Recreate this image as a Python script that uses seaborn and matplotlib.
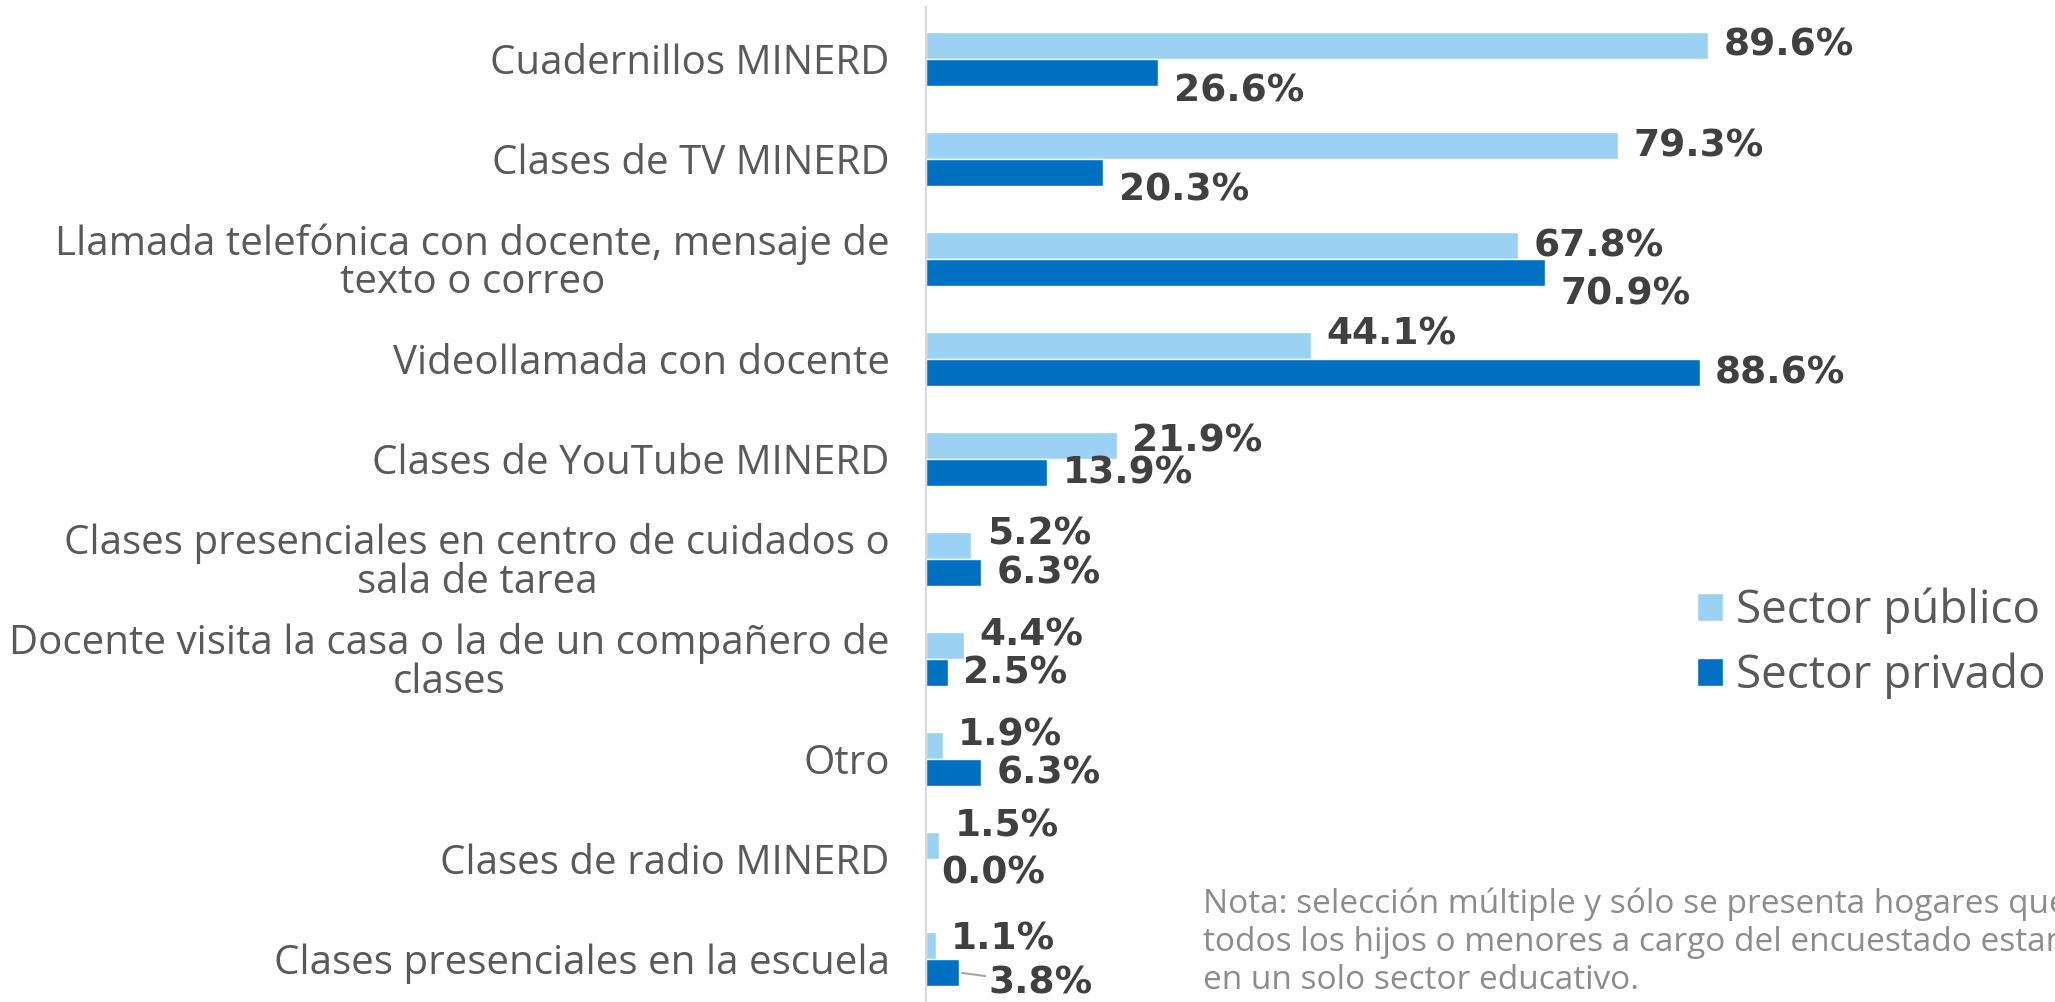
import matplotlib
matplotlib.use('Agg')
import matplotlib.pyplot as plt
import seaborn as sns
import pandas as pd

# ============================
# Data
# ============================
categories = [
    'Cuadernillos MINERD',
    'Clases de TV MINERD',
    'Llamada telefónica con docente, mensaje de\ntexto o correo',
    'Videollamada con docente',
    'Clases de YouTube MINERD',
    'Clases presenciales en centro de cuidados o\nsala de tarea',
    'Docente visita la casa o la de un compañero de\nclases',
    'Otro',
    'Clases de radio MINERD',
    'Clases presenciales en la escuela',
]
publico = [89.6, 79.3, 67.8, 44.1, 21.9, 5.2, 4.4, 1.9, 1.5, 1.1]
privado = [26.6, 20.3, 70.9, 88.6, 13.9, 6.3, 2.5, 6.3, 0.0, 3.8]
sectores = ['Sector público', 'Sector privado']

# label nudges (points) so they don't collide, as in the original
pub_dy = [0, -1, -1, 8, 3, 8, 7, 7, 14, 4]
priv_dy = [-14, -13, -16, -1, -1, -1, -1, -1, -1, -8]

df = pd.DataFrame({
    'cat': categories * 2,
    'val': publico + privado,
    'sector': [sectores[0]] * len(categories) + [sectores[1]] * len(categories),
})

# ============================
# Style
# ============================
sns.set_style('white')
plt.rcParams['font.family'] = ['Open Sans', 'DejaVu Sans']

light = '#9BD1F2'
dark = '#0070C0'
label_col = '#595959'
value_col = '#404040'

fig = plt.figure(figsize=(20.55, 10.02), dpi=100)
ax = fig.add_axes([0.4506, 0.0, 0.5494, 0.993])

sns.barplot(data=df, y='cat', x='val', hue='sector', orient='h',
            palette=[light, dark], width=0.54, gap=0, saturation=1,
            errorbar=None, ax=ax)

ax.set_xlim(0, 129.3)
ax.set_ylim(9.43, -0.52)
ax.set_xlabel('')
ax.set_ylabel('')
ax.set_xticks([])
for s in ['top', 'right', 'bottom']:
    ax.spines[s].set_visible(False)
ax.spines['left'].set_color('#D9D9D9')
ax.spines['left'].set_linewidth(1.5)

ax.tick_params(axis='y', length=0, pad=26)
for t in ax.get_yticklabels():
    t.set_fontsize(29)
    t.set_color(label_col)
    t.set_multialignment('center')
    t.set_linespacing(0.95)

# value labels
val_font = dict(fontsize=27, fontweight='bold', color=value_col,
                family='DejaVu Sans', ha='left', va='center')
for cont, dys in zip(ax.containers, [pub_dy, priv_dy]):
    for i, (p, dy) in enumerate(zip(cont.patches, dys)):
        w = p.get_width()
        yc = p.get_y() + p.get_height() / 2
        txt = f'{w:.1f}%'
        if cont is ax.containers[1] and i == len(categories) - 1:
            ax.annotate(txt, xy=(w, yc), xytext=(21, dy), textcoords='offset points',
                        arrowprops=dict(arrowstyle='-', color='#A6A6A6', lw=1.5,
                                        shrinkA=0, shrinkB=2),
                        **val_font)
        else:
            ax.annotate(txt, xy=(w, yc), xytext=(11, dy), textcoords='offset points',
                        **val_font)

# legend
handles, labels = ax.get_legend_handles_labels()
ax.legend(handles, labels, loc='center left', bbox_to_anchor=(0.826, 0.358),
          bbox_transform=fig.transFigure, frameon=False, fontsize=33,
          handlelength=0.55, handleheight=0.55, handletextpad=0.3,
          labelspacing=0.4, borderpad=0, borderaxespad=0, labelcolor=label_col)

# note (runs off the right edge, as in the original)
fig.text(0.5854, 0.0599,
         'Nota: selección múltiple y sólo se presenta hogares que\n'
         'todos los hijos o menores a cargo del encuestado estan\n'
         'en un solo sector educativo.',
         ha='left', va='center', fontsize=24, color='#8C8C8C', linespacing=1.2)

plt.savefig('out.png', dpi=100)
